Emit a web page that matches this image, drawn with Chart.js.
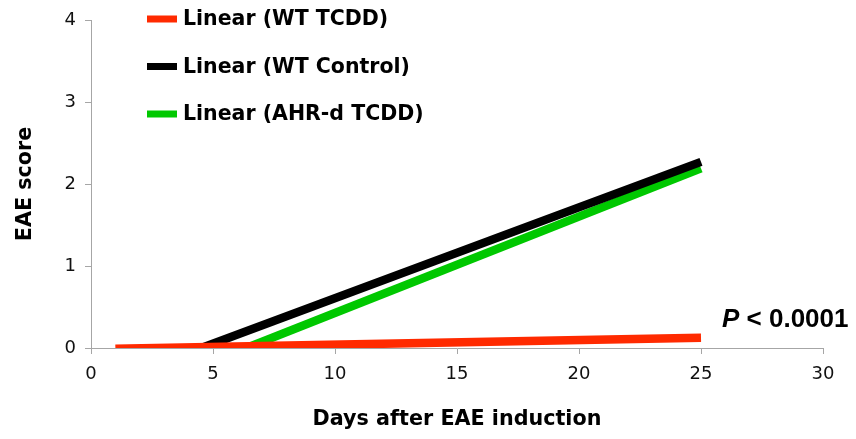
<!DOCTYPE html>
<html>
<head>
<meta charset="utf-8">
<script src="https://cdn.jsdelivr.net/npm/chart.js@4.4.1/dist/chart.umd.min.js"></script>
<style>
  html, body { margin: 0; padding: 0; background: #fff; }
  #wrap { width: 856px; height: 439px; position: relative; }
</style>
</head>
<body>
<div id="wrap"><canvas id="c" width="856" height="439"></canvas></div>
<script>
// ---- data (trendline endpoints) ----
const seriesLabels = ['Linear (WT TCDD)', 'Linear (WT Control)', 'Linear (AHR-d TCDD)'];
const seriesColors = ['#ff2a00', '#000000', '#00c800'];
const wtTcddDays = [1, 25];
const wtTcddScore = [-0.01, 0.125];
const wtControlDays = [1, 25];
const wtControlScore = [-0.39, 2.27];
const ahrTcddDays = [1, 25];
const ahrTcddScore = [-0.63, 2.19];
const xTicks = [0, 5, 10, 15, 20, 25, 30];
const yTicks = [0, 1, 2, 3, 4];
const pValueText = '< 0.0001';

function pts(xs, ys) { return xs.map((x, i) => ({ x: x, y: ys[i] })); }

const dataSets = [
  pts(wtTcddDays, wtTcddScore),
  pts(wtControlDays, wtControlScore),
  pts(ahrTcddDays, ahrTcddScore)
].map((d, i) => ({
  label: seriesLabels[i],
  data: d,
  borderColor: seriesColors[i],
  backgroundColor: seriesColors[i],
  borderWidth: 8.5,
  borderCapStyle: 'butt',
  pointRadius: 0,
  tension: 0,
  clip: 0,
  fill: false
}));

const legendPlugin = {
  id: 'customLegend',
  afterDraw(chart) {
    const ctx = chart.ctx;
    const rows = [19, 66.5, 114];
    ctx.save();
    chart.data.datasets.forEach((ds, i) => {
      const y = rows[i];
      ctx.strokeStyle = ds.borderColor;
      ctx.lineWidth = 7;
      ctx.lineCap = 'butt';
      ctx.beginPath();
      ctx.moveTo(147, y);
      ctx.lineTo(177, y);
      ctx.stroke();
      ctx.fillStyle = '#000';
      ctx.font = 'bold 20.5px "DejaVu Sans"';
      ctx.textBaseline = 'middle';
      ctx.textAlign = 'left';
      ctx.fillText(ds.label, 183, y + 1);
    });
    // p-value annotation
    ctx.textBaseline = 'alphabetic';
    ctx.font = 'italic bold 26px "Liberation Sans"';
    ctx.fillText('P', 722, 327);
    const pw = ctx.measureText('P ').width;
    ctx.font = 'bold 26px "Liberation Sans"';
    ctx.fillText(pValueText, 722 + pw, 327);
    ctx.restore();
  }
};

new Chart(document.getElementById('c'), {
  type: 'line',
  data: { datasets: dataSets },
  plugins: [legendPlugin],
  options: {
    responsive: false,
    animation: false,
    devicePixelRatio: 1,
    layout: { padding: { left: 0, right: 33, top: 20, bottom: 0 } },
    plugins: { legend: { display: false }, tooltip: { enabled: false } },
    scales: {
      x: {
        type: 'linear',
        min: xTicks[0],
        max: xTicks[xTicks.length - 1],
        afterBuildTicks(scale) { scale.ticks = xTicks.map(v => ({ value: v })); },
        afterFit(scale) { scale.height = 91; },
        border: { color: '#a6a6a6', width: 1 },
        grid: { drawOnChartArea: false, drawTicks: true, tickLength: 6, color: '#a6a6a6' },
        ticks: { color: '#111', font: { family: '"DejaVu Sans"', size: 18 }, padding: 10, maxRotation: 0 },
        title: { display: true, text: 'Days after EAE induction', color: '#000',
                 font: { family: '"DejaVu Sans"', size: 20.7, weight: 'bold' }, padding: { top: 0, bottom: 7 } }
      },
      y: {
        type: 'linear',
        min: yTicks[0],
        max: yTicks[yTicks.length - 1],
        afterBuildTicks(scale) { scale.ticks = yTicks.map(v => ({ value: v })); },
        afterFit(scale) { scale.width = 91; },
        border: { color: '#a6a6a6', width: 1 },
        grid: { drawOnChartArea: false, drawTicks: true, tickLength: 6, color: '#a6a6a6' },
        ticks: { color: '#111', font: { family: '"DejaVu Sans"', size: 18 }, padding: 9 },
        title: { display: true, text: 'EAE score', color: '#000',
                 font: { family: '"DejaVu Sans"', size: 20.7, weight: 'bold' }, padding: { top: 13, bottom: 0 } }
      }
    }
  }
});
</script>
</body>
</html>
